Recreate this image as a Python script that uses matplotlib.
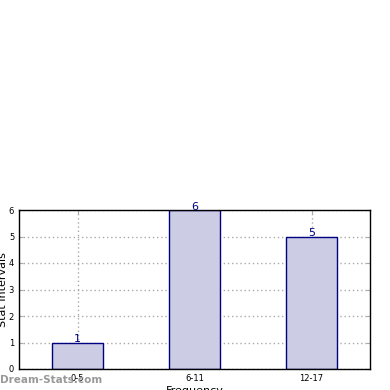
import matplotlib
matplotlib.use("Agg")
import matplotlib.pyplot as plt

categories = ["0-5", "6-11", "12-17"]
values = [1, 6, 5]

fig = plt.figure(figsize=(3.9, 3.9), dpi=100)
ax = fig.add_axes([19/390, 21/390, 351/390, 159/390])
x = range(len(categories))
ax.bar(x, values, width=0.44, color="#ccccE4", edgecolor="#000080", linewidth=1.0, zorder=2)
for xi, v in zip(x, values):
    ax.text(xi, v, str(v), ha="center", va="baseline", color="#000080", fontsize=8, zorder=3)
ax.set_xlim(-0.5, 2.5)
ax.set_ylim(0, 6)
ax.set_xticks(list(x))
ax.set_xticklabels(categories, fontsize=6)
ax.set_yticks(range(0, 7))
ax.tick_params(axis="y", labelsize=6)
ax.tick_params(direction="in", top=True, right=True, length=3, color="#aaaaaa")
ax.grid(True, linestyle=(0, (1, 2)), color="#aaaaaa", linewidth=1.0, zorder=1)
ax.set_axisbelow(True)
ax.set_xlabel("Frequency", fontsize=8, labelpad=2)
ax.set_ylabel("Stat Intervals", fontsize=8)
ax.yaxis.set_label_coords(-11/351, 0.5)
for s in ax.spines.values():
    s.set_linewidth(1.0)
fig.text(0/390, 1 - 380/390, "Dream-Stats.com", fontsize=7.5, color="#999999", fontweight="bold", va="center", ha="left")
fig.savefig("out.png", dpi=100)
